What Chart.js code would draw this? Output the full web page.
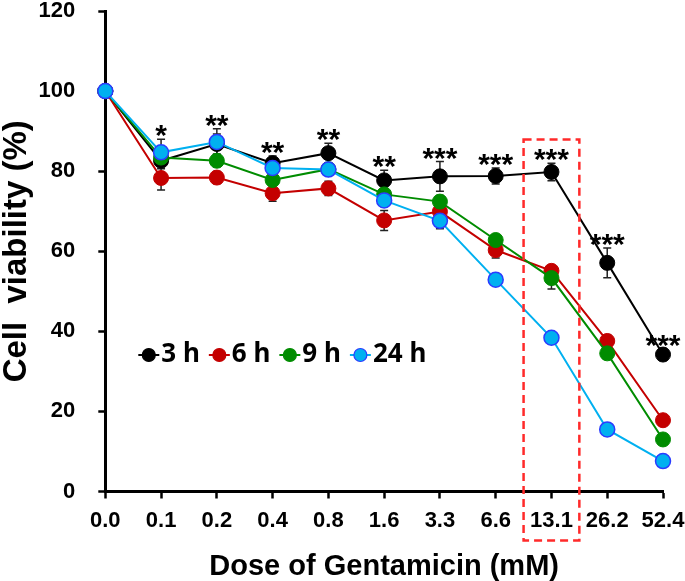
<!DOCTYPE html>
<html>
<head>
<meta charset="utf-8">
<script src="https://cdn.jsdelivr.net/npm/chart.js@4.4.1/dist/chart.umd.min.js"></script>
<style>
  html, body { margin: 0; padding: 0; background: #fff; }
</style>
</head>
<body>
<canvas id="viabilityChart" width="685" height="581"></canvas>
<script>
// Gentamicin dose (mM) on the category axis
const doses = ['0.0', '0.1', '0.2', '0.4', '0.8', '1.6', '3.3', '6.6', '13.1', '26.2', '52.4'];
const yTicks = [0, 20, 40, 60, 80, 100, 120];

// mean cell viability (%) and error (+/-) per exposure time
const v3h = [100, 82.6, 86.8, 82.0, 84.5, 77.7, 78.7, 78.8, 79.8, 57.1, 34.2];
const e3h = [0, 2.0, 2.5, 1.8, 2.5, 2.5, 3.7, 2.0, 2.2, 3.7, 1.5];
const v6h = [100, 78.3, 78.4, 74.5, 75.7, 67.7, 69.9, 60.3, 55.1, 37.6, 17.8];
const e6h = [0, 3.0, 1.5, 2.0, 1.8, 2.5, 2.0, 2.0, 1.0, 1.5, 1.0];
const v9h = [100, 83.4, 82.6, 77.8, 80.5, 74.2, 72.4, 62.8, 53.3, 34.5, 13.0];
const e9h = [0, 1.5, 1.5, 1.5, 1.5, 1.5, 1.5, 1.2, 2.7, 1.5, 1.0];
const v24h = [100, 84.7, 87.3, 80.8, 80.4, 72.7, 67.6, 52.9, 38.4, 15.5, 7.6];
const e24h = [0, 3.3, 3.3, 1.0, 1.0, 1.5, 2.0, 1.0, 1.5, 1.5, 0.8];

// significance marks above each dose
const sigMarks = ['', '*', '**', '**', '**', '**', '***', '***', '***', '***', '***'];
const highlightDose = '13.1';

const FONT = '"Liberation Sans", Arial, sans-serif';

function series(label, data, errors, color, order, border) {
    return {
        label: label,
        data: data,
        errors: errors,
        borderColor: color,
        backgroundColor: color,
        pointBackgroundColor: color,
        pointBorderColor: border || color,
        pointBorderWidth: border ? 1.5 : 1,
        pointRadius: 7.5,
        pointHoverRadius: 7.5,
        borderWidth: 2,
        tension: 0,
        order: order,
        clip: false
    };
}

// error bars, drawn under the markers
const errorBars = {
    id: 'errorBars',
    beforeDatasetsDraw(chart) {
        const ctx = chart.ctx, y = chart.scales.y;
        ctx.save();
        ctx.strokeStyle = '#222';
        ctx.lineWidth = 1.5;
        chart.data.datasets.forEach((ds, i) => {
            chart.getDatasetMeta(i).data.forEach((pt, j) => {
                const e = ds.errors[j];
                if (!e) return;
                const top = y.getPixelForValue(ds.data[j] + e);
                const bot = y.getPixelForValue(ds.data[j] - e);
                ctx.beginPath();
                ctx.moveTo(pt.x, top); ctx.lineTo(pt.x, bot);
                ctx.moveTo(pt.x - 4, top); ctx.lineTo(pt.x + 4, top);
                ctx.moveTo(pt.x - 4, bot); ctx.lineTo(pt.x + 4, bot);
                ctx.stroke();
            });
        });
        ctx.restore();
    }
};

// asterisks + dashed box + inline legend
const annotations = {
    id: 'annotations',
    afterDraw(chart) {
        const ctx = chart.ctx, x = chart.scales.x, y = chart.scales.y;
        const sets = chart.data.datasets;
        ctx.save();

        ctx.fillStyle = '#000';
        ctx.font = 'bold 30px ' + FONT;
        ctx.textAlign = 'center';
        ctx.textBaseline = 'alphabetic';
        sigMarks.forEach((m, j) => {
            if (!m) return;
            let top = Infinity;
            sets.forEach(ds => { top = Math.min(top, y.getPixelForValue(ds.data[j] + ds.errors[j])); });
            ctx.fillText(m, x.getPixelForValue(j), top - 11 + 17);
        });

        // dashed highlight around one dose
        const hi = doses.indexOf(highlightDose);
        const cx = x.getPixelForValue(hi);
        const half = (x.getPixelForValue(1) - x.getPixelForValue(0)) / 2;
        const boxTop = y.getPixelForValue(87.9);
        const boxBot = chart.chartArea.bottom + 49;
        ctx.strokeStyle = '#ff2a2a';
        ctx.lineWidth = 2.5;
        ctx.setLineDash([8, 5]);
        ctx.strokeRect(cx - half, boxTop, half * 2, boxBot - boxTop);
        ctx.setLineDash([]);

        // legend inside the plot
        let lx = chart.chartArea.left + 33;
        const ly = 355;
        ctx.font = 'bold 26px "Noto Sans", ' + FONT;
        ctx.textAlign = 'left';
        ctx.textBaseline = 'middle';
        sets.forEach(ds => {
            ctx.strokeStyle = ds.borderColor;
            ctx.lineWidth = 2;
            ctx.beginPath();
            ctx.moveTo(lx, ly); ctx.lineTo(lx + 21, ly);
            ctx.stroke();
            ctx.beginPath();
            ctx.arc(lx + 10.5, ly, 6.5, 0, Math.PI * 2);
            ctx.fillStyle = ds.pointBackgroundColor;
            ctx.fill();
            ctx.lineWidth = 1.2;
            ctx.strokeStyle = ds.pointBorderColor;
            ctx.stroke();
            ctx.fillStyle = '#000';
            ctx.fillText(ds.label, lx + 23, ly);
            lx += 23 + ctx.measureText(ds.label).width + 9;
        });
        ctx.restore();
    }
};

const ctx = document.getElementById('viabilityChart').getContext('2d');
new Chart(ctx, {
    type: 'line',
    data: {
        labels: doses,
        datasets: [
            series('3 h', v3h, e3h, '#000000', 4),
            series('6 h', v6h, e6h, '#c40000', 3),
            series('9 h', v9h, e9h, '#008c00', 2),
            series('24 h', v24h, e24h, '#00b0f0', 1, '#2a3cff')
        ]
    },
    options: {
        responsive: false,
        animation: false,
        layout: { padding: { top: 11, right: 22, left: 0, bottom: 0 } },
        plugins: {
            legend: { display: false },
            tooltip: { enabled: false }
        },
        scales: {
            x: {
                type: 'category',
                offset: false,
                grid: { drawOnChartArea: false, drawTicks: true, tickLength: 7, tickWidth: 2.5, tickColor: '#000' },
                border: { display: true, color: '#000', width: 3 },
                ticks: { color: '#000', font: { family: FONT, size: 22, weight: 'bold', lineHeight: 1 }, padding: 11, maxRotation: 0, autoSkip: false },
                title: { display: true, text: 'Dose of Gentamicin (mM)', color: '#000', font: { family: FONT, size: 29, weight: 'bold', lineHeight: 1 }, padding: 0 },
                afterFit(s) { s.height = 89.5; s.paddingLeft = 0; s.paddingRight = 22; }
            },
            y: {
                min: 0,
                max: 120,
                afterBuildTicks(s) { s.ticks = yTicks.map(v => ({ value: v })); },
                grid: { drawOnChartArea: false, drawTicks: true, tickLength: 7, tickWidth: 2.5, tickColor: '#000' },
                border: { display: true, color: '#000', width: 3 },
                ticks: { color: '#000', font: { family: FONT, size: 22, weight: 'bold', lineHeight: 1 }, padding: 23 },
                title: { display: true, text: 'Cell  viability (%)', color: '#000', font: { family: FONT, size: 33, weight: 'bold', lineHeight: 1 }, padding: 0 },
                afterFit(s) { s.width = 105.3; s.paddingTop = 11; s.paddingBottom = 0; }
            }
        }
    },
    plugins: [errorBars, annotations]
});
</script>
</body>
</html>
